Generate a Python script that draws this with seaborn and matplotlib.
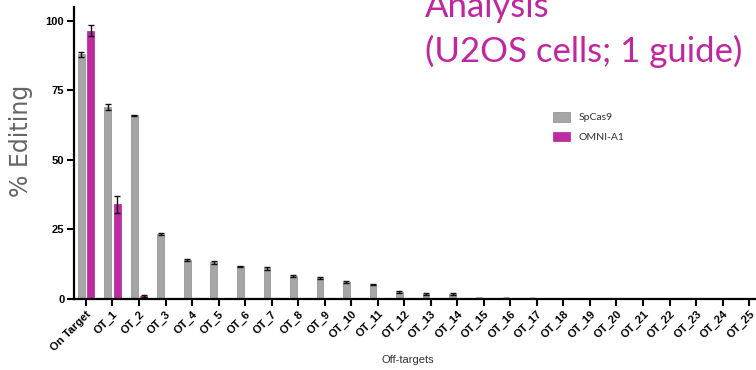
import matplotlib
matplotlib.use("Agg")
import matplotlib.pyplot as plt
import seaborn as sns
import pandas as pd
import numpy as np

categories = ["On Target"] + [f"OT_{i}" for i in range(1, 26)]
spcas9 = [88, 69, 66, 23.4, 14.0, 13.2, 11.7, 11.0, 8.2, 7.6, 6.0, 5.2, 2.6, 1.7, 1.7,
          0.3, 0.3, 0.2, 0.1, 0.1, 0.1, 0.1, 0.1, 0.1, 0.1, 0.1]
spcas9_err = [0.8, 1.0, 0.3, 0.4, 0.5, 0.6, 0.3, 0.4, 0.4, 0.3, 0.3, 0.1, 0.4, 0.3, 0.4,
              0.1, 0.1, 0.1, 0, 0, 0, 0, 0, 0, 0, 0]
omni = [96.5, 34, 1.0, 0.1, 0.2, 0.1, 0.1, 0.1, 0.1, 0.1, 0.1, 0.1, 0.1, 0.1, 0.1,
        0.1, 0.1, 0.1, 0.1, 0.1, 0.1, 0.1, 0.1, 0.1, 0.1, 0.1]
omni_err = [2.0, 3.0, 0.3, 0, 0, 0, 0, 0, 0, 0, 0, 0, 0, 0, 0,
            0, 0, 0, 0, 0, 0, 0, 0, 0, 0, 0]
series = ["SpCas9", "OMNI-A1"]
yticks = [0, 25, 50, 75, 100]

df = pd.DataFrame({
    "target": categories * 2,
    "value": spcas9 + omni,
    "enzyme": [series[0]] * len(categories) + [series[1]] * len(categories),
})

W, H = 756, 370
fig = plt.figure(figsize=(W / 100, H / 100), dpi=100)
ax = fig.add_axes([74 / W, (H - 299) / H, (W - 74) / W, (299 - 7) / H])

grey = "#a6a6a6"
mag = "#c02aa0"
edges = ["#8c8c8c", "#b0259a"]
sns.barplot(data=df, x="target", y="value", hue="enzyme", hue_order=series,
            palette=[grey, mag], saturation=1, width=0.72, gap=0.3, errorbar=None,
            linewidth=0.5, ax=ax, legend=True)

for cont, err, ec in zip(ax.containers, [spcas9_err, omni_err], edges):
    for p in cont.patches:
        p.set_edgecolor(ec)
    xs = [p.get_x() + p.get_width() / 2 for p in cont.patches]
    hs = [p.get_height() for p in cont.patches]
    e = np.array(err)
    mask = e > 0
    ax.errorbar(np.array(xs)[mask], np.array(hs)[mask], yerr=e[mask], fmt="none",
                ecolor="#111111", elinewidth=1.0, capsize=2.0, capthick=1.0, zorder=5)

ax.set_xlim(-0.45, 25.26)
ax.set_ylim(0, 105)
ax.set_yticks(yticks)
ax.set_yticklabels([str(t) for t in yticks], fontsize=8, fontweight="bold",
                   family="Liberation Sans")
ax.set_xticks(range(len(categories)))
ax.set_xticklabels(categories, rotation=45, ha="right", rotation_mode="anchor",
                   fontsize=8, fontweight="bold", family="Liberation Sans")
ax.tick_params(axis="both", direction="out", length=5, width=1.5, color="black", pad=2)
for s in ["top", "right"]:
    ax.spines[s].set_visible(False)
for s in ["left", "bottom"]:
    ax.spines[s].set_linewidth(1.6)
    ax.spines[s].set_color("black")
ax.set_facecolor("white")

ax.set_ylabel("% Editing", fontsize=17, color="#666666", family="DejaVu Sans")
ax.yaxis.set_label_coords((33 - 74) / (W - 74), (299 - 141) / 292)
ax.set_xlabel("Off-targets", fontsize=8, color="#333333", family="Liberation Sans")
ax.xaxis.set_label_coords((408 - 74) / (W - 74), -(355 - 299) / 292)

leg = ax.legend(loc="upper left", bbox_to_anchor=(548 / W, 1 - 107 / H),
                bbox_transform=fig.transFigure, frameon=False, fontsize=7.5,
                handlelength=1.6, handleheight=1.0, labelspacing=0.9,
                borderpad=0, handletextpad=0.8)
for t in leg.get_texts():
    t.set_color("#333333")
    t.set_family("Lato")
for h, c, ec in zip(leg.legend_handles, [grey, mag], edges):
    h.set_facecolor(c)
    h.set_edgecolor(ec)

fig.text(425 / W, 1 - 17 / H, "Analysis", color="#c026a0", fontsize=25,
         family="Lato", va="baseline", ha="left")
fig.text(425 / W, 1 - 62 / H, "(U2OS cells; 1 guide)", color="#c026a0", fontsize=25,
         family="Lato", va="baseline", ha="left")

fig.savefig("out.png", dpi=100, facecolor="white")
